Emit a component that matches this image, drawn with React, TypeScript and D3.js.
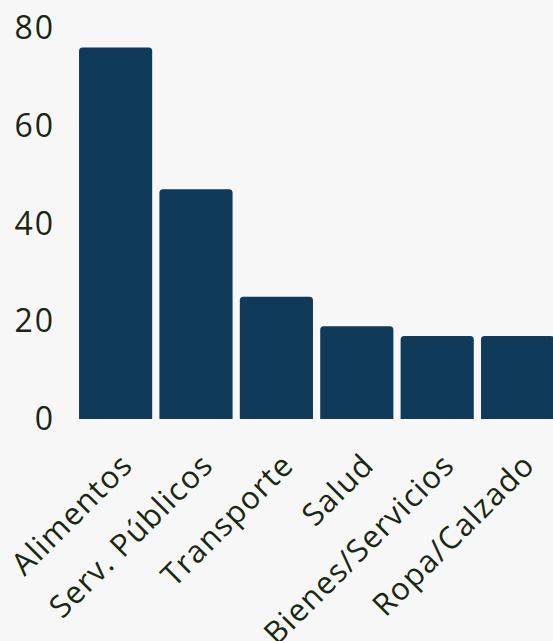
import React, { useEffect, useRef } from 'react';
import * as d3 from 'd3';

const categories = ['Alimentos', 'Serv. Públicos', 'Transporte', 'Salud', 'Bienes/Servicios', 'Ropa/Calzado'];
const values = [76, 47, 25, 19, 17, 17];
const yTicks = [0, 20, 40, 60, 80];

const BAR_COLOR = '#0f3a5a';
const TEXT_COLOR = '#1a2710';
const FONT = '"Open Sans", sans-serif';

const W = 553;
const H = 641;

const App: React.FC = () => {
  const svgRef = useRef<SVGSVGElement>(null);

  useEffect(() => {
    if (!svgRef.current) return;
    const svg = d3.select(svgRef.current);
    svg.selectAll('*').remove();

    const x = d3
      .scaleBand()
      .domain(categories)
      .range([75.4, 557.8])
      .paddingInner(0.09)
      .paddingOuter(0.045);

    const y = d3.scaleLinear().domain([0, 80]).range([419, 28]);

    const r = 3.5;
    const bars = svg.append('g');
    categories.forEach((c, i) => {
      const x0 = x(c) ?? 0;
      const bw = x.bandwidth();
      const top = y(values[i]);
      const bottom = y(0);
      const p = d3.path();
      p.moveTo(x0, bottom);
      p.lineTo(x0, top + r);
      p.arcTo(x0, top, x0 + r, top, r);
      p.lineTo(x0 + bw - r, top);
      p.arcTo(x0 + bw, top, x0 + bw, top + r, r);
      p.lineTo(x0 + bw, bottom);
      p.closePath();
      bars.append('path').attr('d', p.toString()).attr('fill', BAR_COLOR);
    });

    const yAxis = svg.append('g');
    yTicks.forEach((t) => {
      yAxis
        .append('text')
        .attr('x', 55)
        .attr('y', y(t))
        .attr('dy', '0.35em')
        .attr('text-anchor', 'end')
        .attr('fill', TEXT_COLOR)
        .attr('font-family', FONT)
        .attr('font-size', 32)
        .attr('letter-spacing', 2)
        .text(t);
    });

    const xAxis = svg.append('g');
    categories.forEach((c) => {
      const cx = (x(c) ?? 0) + x.bandwidth() / 2;
      xAxis
        .append('text')
        .attr('transform', `translate(${cx + 19},${y(0) + 48}) rotate(-45)`)
        .attr('text-anchor', 'end')
        .attr('fill', TEXT_COLOR)
        .attr('font-family', FONT)
        .attr('font-size', 31)
        .attr('letter-spacing', 1.2)
        .text(c);
    });
  }, []);

  return (
    <svg
      ref={svgRef}
      width={W}
      height={H}
      style={{ display: 'block', position: 'absolute', left: 0, top: 0, background: '#f7f7f7' }}
    />
  );
};

export default App;
